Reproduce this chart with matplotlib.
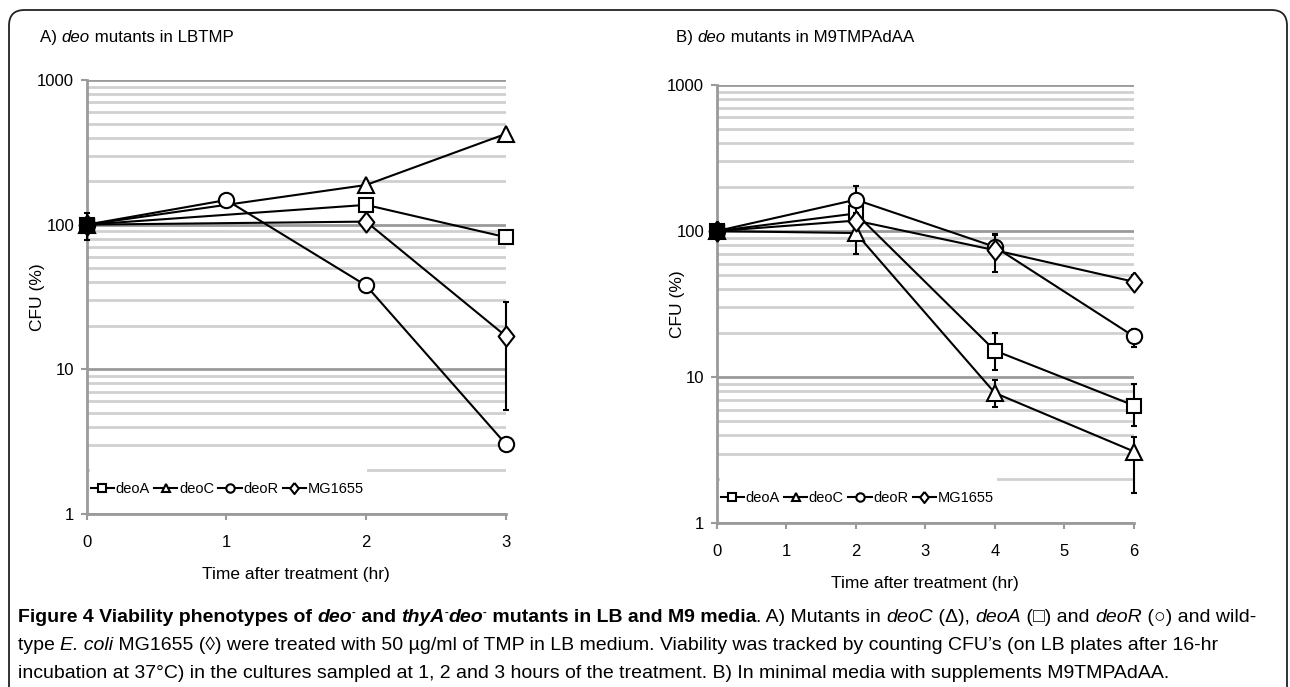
import numpy as np
import matplotlib
matplotlib.use("Agg")
import matplotlib.pyplot as plt
from matplotlib.patches import FancyBboxPatch, Rectangle
from matplotlib.ticker import LogLocator, NullFormatter, FixedLocator

FAM = ["Liberation Sans", "DejaVu Sans"]
plt.rcParams["font.family"] = FAM

# ---- data ----
series = ["deoA", "deoC", "deoR", "MG1655"]
diamond = [(0, 1), (0.78, 0), (0, -1), (-0.78, 0), (0, 1)]
markers = {"deoA": "s", "deoC": "^", "deoR": "o", "MG1655": diamond}
msizes = {"deoA": 10.5, "deoC": 11, "deoR": 11, "MG1655": 14.5}

# panel A: LBTMP
a_time = {"deoA": [0, 2, 3], "deoC": [0, 2, 3], "deoR": [0, 1, 2, 3], "MG1655": [0, 2, 3]}
a_cfu = {"deoA": [100, 137, 82], "deoC": [100, 188, 424],
         "deoR": [100, 148, 38, 3.05], "MG1655": [100, 105, 17]}
a_lo = {"deoA": [100, 123, 74], "deoC": [100, 176, 400],
        "deoR": [100, 140, 35, 2.95], "MG1655": [78, 100, 5.2]}
a_hi = {"deoA": [100, 148, 91], "deoC": [100, 200, 450],
        "deoR": [100, 157, 41, 3.15], "MG1655": [120, 110, 29.3]}

# panel B: M9TMPAdAA
b_time = {s: [0, 2, 4, 6] for s in series}
b_cfu = {"deoA": [100, 132, 15.2, 6.4], "deoC": [100, 97, 7.8, 3.1],
         "deoR": [100, 164, 78, 19], "MG1655": [100, 118, 74, 45]}
b_lo = {"deoA": [100, 115, 11.2, 4.6], "deoC": [100, 70, 6.3, 1.6],
        "deoR": [100, 132, 70, 16.2], "MG1655": [100, 110, 52.6, 41]}
b_hi = {"deoA": [100, 150, 20, 9.0], "deoC": [100, 120, 9.5, 3.9],
        "deoR": [100, 204, 95, 21.5], "MG1655": [100, 126, 94, 50]}

W, H = 1290, 687
fig = plt.figure(figsize=(W / 100, H / 100), dpi=100)

# outer rounded frame
frame = FancyBboxPatch((9 / W, -0.05), (1287 - 9) / W, (H - 10) / H + 0.05,
                       boxstyle="round,pad=0,rounding_size=0.012",
                       transform=fig.transFigure, fill=False, ec="#222222", lw=1.3,
                       mutation_aspect=W / H)
fig.patches.append(frame)


def rich_text(x, y, pieces, size, **kw):
    """draw text pieces one after another (pixel coords from top left)"""
    r = fig.canvas.get_renderer()
    xp = x
    for s, props in pieces:
        p = dict(props)
        dy = p.pop("dy", 0)
        sz = p.pop("size", size)
        t = fig.text(xp / W, 1 - (y - dy) / H, s, fontsize=sz, va="baseline",
                     ha="left", **p, **kw)
        xp += t.get_window_extent(r).width


def draw_panel(ax, times, cfu, lo, hi, xmax, ylab_x):
    for s in series:
        y = np.array(cfu[s])
        yerr = [y - np.array(lo[s]), np.array(hi[s]) - y]
        ax.errorbar(times[s], y, yerr=yerr, fmt="none", ecolor="black",
                    capsize=2.5, elinewidth=1.5, capthick=1.5, zorder=3, clip_on=False)
        ax.plot(times[s], y, color="black", lw=1.5, marker=markers[s], ms=msizes[s],
                mfc="white", mec="black", mew=1.5, label=s, zorder=3, clip_on=False)
    # starting points overlap into a dark blob
    for s in series:
        ax.plot(times[s][:1], cfu[s][:1], ls="none", marker=markers[s], ms=msizes[s] * 0.95,
                mfc="black", mec="black", zorder=4, clip_on=False)
    ax.set_yscale("log")
    ax.set_ylim(1, 1000)
    ax.set_xlim(0, xmax)
    ax.set_xticks(range(0, xmax + 1))
    ax.yaxis.set_major_locator(FixedLocator([1, 10, 100, 1000]))
    ax.set_yticklabels(["1", "10", "100", "1000"])
    ax.yaxis.set_minor_locator(LogLocator(base=10, subs=np.arange(2, 10)))
    ax.yaxis.set_minor_formatter(NullFormatter())
    ax.grid(True, which="major", axis="y", color="#9a9a9a", lw=2)
    ax.grid(True, which="minor", axis="y", color="#d0d0d0", lw=2)
    ax.set_axisbelow(True)
    for sp in ("top", "right"):
        ax.spines[sp].set_visible(False)
    for sp in ("left", "bottom"):
        ax.spines[sp].set_color("#9a9a9a")
        ax.spines[sp].set_linewidth(2)
        ax.spines[sp].set_zorder(2.8)
    ax.tick_params(axis="both", which="major", colors="#9a9a9a", length=4, width=1.5,
                   labelcolor="black", labelsize=12)
    ax.tick_params(axis="y", which="minor", length=0)
    ax.tick_params(axis="y", pad=5)
    ax.tick_params(axis="x", pad=11)
    ax.set_ylabel("CFU (%)", fontsize=12.5)
    ax.yaxis.set_label_coords(ylab_x, 0.5)
    ax.set_xlabel("Time after treatment (hr)", fontsize=12.5, labelpad=12)
    leg = ax.legend(loc="center left", bbox_to_anchor=(0.006, 0.058), ncol=4,
                    frameon=False, fontsize=10.5, handlelength=1.6, handletextpad=0.1,
                    columnspacing=0.3, markerscale=0.55, borderaxespad=0, borderpad=0.1)
    leg.set_zorder(5)
    return leg


axA = fig.add_axes([86.7 / W, 1 - 514 / H, (505.7 - 86.7) / W, (514 - 80) / H])
legA = draw_panel(axA, a_time, a_cfu, a_lo, a_hi, 3, -0.1)
axB = fig.add_axes([716.7 / W, 1 - 523.3 / H, (1134 - 716.7) / W, (523.3 - 85) / H])
legB = draw_panel(axB, b_time, b_cfu, b_lo, b_hi, 6, -0.076)

fig.canvas.draw()

# white patch behind each legend hides the low gridlines, like the original
for ax, leg in ((axA, legA), (axB, legB)):
    bb = leg.get_window_extent().transformed(ax.transAxes.inverted())
    ax.add_patch(Rectangle((0.008, 0.003), bb.x1 + 0.005 - 0.008, 0.125,
                           transform=ax.transAxes, fc="white", ec="none", zorder=2.6))

rich_text(40, 42, [("A) ", {}), ("deo", {"style": "italic"}), (" mutants in LBTMP", {})], 12.2)
rich_text(676, 42, [("B) ", {}), ("deo", {"style": "italic"}), (" mutants in M9TMPAdAA", {})], 12.2)

B = {"weight": "bold"}
BI = {"weight": "bold", "style": "italic"}
I = {"style": "italic"}
SUP = {"weight": "bold", "dy": 6, "size": 8}
cs = 14.0
rich_text(18, 622, [("Figure 4 Viability phenotypes of ", B), ("deo", BI), ("-", SUP),
                    (" and ", B), ("thyA", BI), ("-", SUP), ("deo", BI), ("-", SUP),
                    (" mutants in LB and M9 media", B),
                    (". A) Mutants in ", {}), ("deoC", I), (" (\u0394), ", {}),
                    ("deoA", I), (" (\u25a1) and ", {}), ("deoR", I),
                    (" (\u25cb) and wild-", {})], cs)
rich_text(18, 650, [("type ", {}), ("E. coli", I),
                    (" MG1655 (\u25ca) were treated with 50 \u00b5g/ml of TMP in LB medium. "
                     "Viability was tracked by counting CFU\u2019s (on LB plates after 16-hr", {})], cs)
rich_text(18, 678, [("incubation at 37\u00b0C) in the cultures sampled at 1, 2 and 3 hours of the "
                     "treatment. B) In minimal media with supplements M9TMPAdAA.", {})], cs)

fig.savefig("out.png", dpi=100)
